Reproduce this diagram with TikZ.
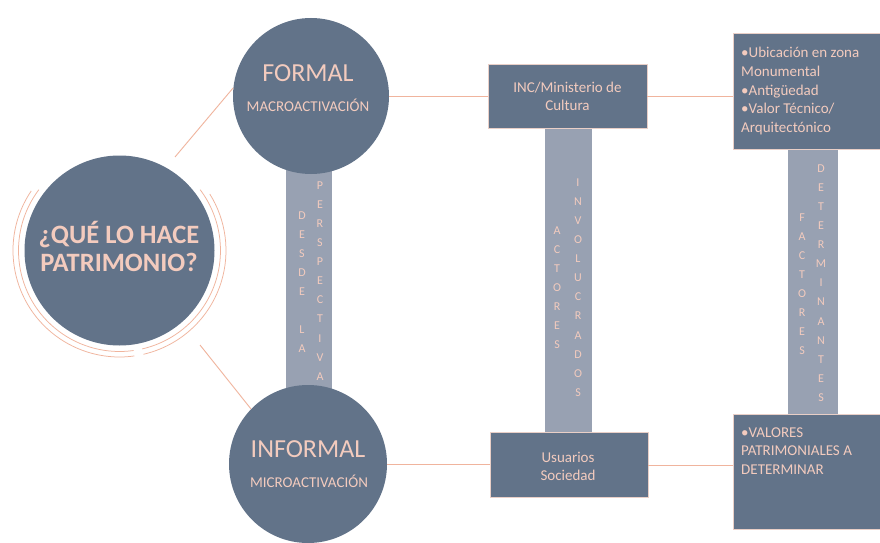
\documentclass[tikz,border=0pt]{standalone}
\usepackage{fontspec}
\setmainfont{Carlito}
\usetikzlibrary{calc}
\definecolor{slate}{HTML}{627389}
\definecolor{barc}{HTML}{98A1B2}
\definecolor{ptext}{HTML}{F3CBBE}
\definecolor{pline}{HTML}{F0B49D}
\definecolor{pedge}{HTML}{E9CFC7}
\tikzset{
  link/.style={draw=pline, line width=0.9pt},
  ring/.style={draw=pline, line width=0.75pt},
  circ/.style={circle, fill=slate, inner sep=0pt},
  bar/.style={rectangle, fill=barc, draw=none, inner sep=0pt, anchor=south west},
  box/.style={rectangle, fill=slate, draw=pedge, line width=0.6pt, inner sep=0pt},
  vtext/.style={text=ptext, align=center, anchor=north, inner sep=0pt, font=\fontsize{12}{19.1}\selectfont},
  btext/.style={text=ptext, align=left, anchor=north west, inner sep=0pt, font=\fontsize{15}{18.7}\selectfont},
  ctext/.style={text=ptext, align=center, anchor=north, inner sep=0pt, font=\fontsize{15}{18}\selectfont},
  big/.style={text=ptext, anchor=base, inner sep=0pt, font=\fontsize{26}{26}\selectfont},
  small/.style={text=ptext, anchor=base, inner sep=0pt, font=\fontsize{15}{15}\selectfont},
}
\begin{document}
\begin{tikzpicture}[x=1pt,y=1pt]
\useasboundingbox (0,0) rectangle (880,542);
\fill[white] (0,0) rectangle (880,542);

% vertical bars
\node[bar, minimum width=46, minimum height=230] (b1) at (286,147) {};
\node[bar, minimum width=47, minimum height=305] (b2) at (545,109) {};
\node[bar, minimum width=50, minimum height=267] (b3) at (788,127) {};

% circles
\node[circ, minimum size=190] (q) at (119.5,291.5) {};
\node[circ, minimum size=156] (formal) at (311,446) {};
\node[circ, minimum size=158] (informal) at (308,78) {};

% boxes
\node[box, minimum width=159, minimum height=64] (inc) at (567.5,446) {};
\node[box, minimum width=147, minimum height=116] (tr) at (806.5,451) {};
\node[box, minimum width=158, minimum height=65] (usu) at (569,77) {};
\node[box, minimum width=147, minimum height=115] (br) at (806.5,70.5) {};

% rings around the main circle
\draw[ring] ($(q.center)+(143:101)$) arc[start angle=143, end angle=278, radius=101];
\draw[ring] ($(q.center)+(146:106.5)$) arc[start angle=146, end angle=278, radius=106.5];
\draw[ring] ($(q.center)+(283:101)$) arc[start angle=283, end angle=397, radius=101];
\draw[ring] ($(q.center)+(283:106.5)$) arc[start angle=283, end angle=392, radius=106.5];

% connectors
\coordinate (d1) at (175,385);
\coordinate (d2) at (200,197);
\draw[link] (d1) -- (formal.174);
\draw[link] (d2) -- (informal.136);
\draw[link] (formal.east) -- (inc.west);
\draw[link] (inc.east) -- (inc.east -| tr.west);
\draw[link] (informal.east) -- (informal.east -| usu.west);
\draw[link] (usu.east) -- (usu.east -| br.west);

% texts
\node[text=ptext, align=center, anchor=north, inner sep=0pt,
      font=\fontsize{26.5}{28.6}\selectfont\bfseries] (qt) at (119,323)
      {\rule{0pt}{24pt}¿QUÉ LO HACE\\PATRIMONIO?};
\node[big] (ft) at (308,460) {FORMAL};
\node[small] (fs) at (308,430) {MACROACTIVACIÓN};
\node[big] (it) at (308,85) {INFORMAL};
\node[small] (is) at (309,55) {MICROACTIVACIÓN};

\node[ctext] (inct) at (567.5,463) {\rule{0pt}{13pt}INC/Ministerio de\\Cultura};
\node[ctext] (usut) at (568,93) {\rule{0pt}{13pt}Usuarios\\Sociedad};
\node[btext] (trt) at (741,497.5) {\rule{0pt}{13pt}•Ubicación en zona\\Monumental\\•Antigüedad\\•Valor Técnico/\\Arquitectónico};
\node[btext] (brt) at (741,118) {\rule{0pt}{13pt}•VALORES\\PATRIMONIALES A\\DETERMINAR};

% vertical letters
\node[vtext] (v1) at (302,334) {\rule{0pt}{11pt}D\\E\\S\\D\\E\\[19.1pt]L\\A};
\node[vtext] (v2) at (320,364) {\rule{0pt}{11pt}P\\E\\R\\S\\P\\E\\C\\T\\I\\V\\A};
\node[vtext] (v3) at (557,319) {\rule{0pt}{11pt}A\\C\\T\\O\\R\\E\\S};
\node[vtext] (v4) at (578,367) {\rule{0pt}{11pt}I\\N\\V\\O\\L\\U\\C\\R\\A\\D\\O\\S};
\node[vtext] (v5) at (802,332) {\rule{0pt}{11pt}F\\A\\C\\T\\O\\R\\E\\S};
\node[vtext] (v6) at (821,381) {\rule{0pt}{11pt}D\\E\\T\\E\\R\\M\\I\\N\\A\\N\\T\\E\\S};
\end{tikzpicture}
\end{document}
